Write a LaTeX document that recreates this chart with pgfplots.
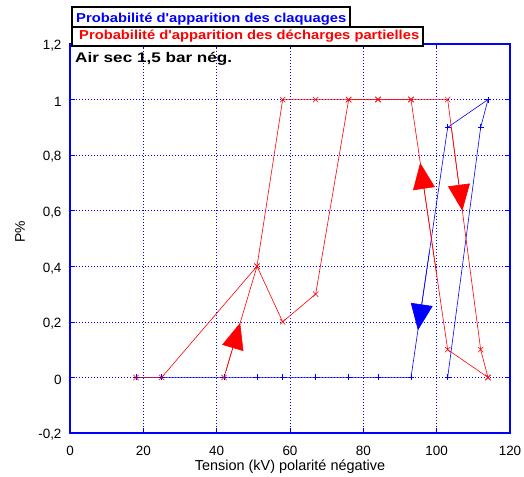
\documentclass[border=0pt]{standalone}
\usepackage{fontspec}
\setmainfont{Liberation Sans}[Ligatures=TeXOff]
\usepackage{pgfplots}
\pgfplotsset{compat=1.18}
\usetikzlibrary{arrows.meta}
\definecolor{pblue}{RGB}{0,0,255}
\definecolor{pred}{RGB}{255,0,0}
\begin{document}
\begin{tikzpicture}
\path[use as bounding box] (-70bp,-44bp) rectangle (454bp,433bp);
\begin{axis}[
  at={(0,0)}, anchor=south west, scale only axis,
  width=440bp, height=389bp,
  xmin=0, xmax=120, ymin=-0.2, ymax=1.2,
  xtick={0,20,40,60,80,100,120},
  xticklabels={0,20,40,60,80,100,120},
  ytick={-0.2,0,0.2,0.4,0.6,0.8,1,1.2},
  yticklabels={{-0,2},{0},{0,2},{0,4},{0,6},{0,8},{1},{1,2}},
  tick label style={font=\fontsize{13.5}{16}\selectfont, text=black},
  xticklabel shift=10bp,
  yticklabel shift=5bp,
  yticklabel style={yshift=-2bp},
  axis line style={pblue, line width=1.2pt},
  tick style={pblue, line width=0.6pt},
  major tick length=5bp,
  grid=major,
  major grid style={pblue, dash pattern=on 1bp off 2bp, line width=0.6pt},
  xlabel={Tension (kV) polarité négative},
  xlabel style={at={(axis description cs:0.5,0)}, anchor=center, yshift=-34bp, font=\fontsize{14.5}{17}\selectfont},
  ylabel={P\%},
  ylabel style={at={(axis description cs:-0.1136,0.517)}, anchor=center, font=\fontsize{14}{17}\selectfont},
  clip=false,
]
% Claquages (blue)
\addplot[pblue, line width=0.6pt, mark=+, mark size=3bp] coordinates {
  (18,0) (25,0) (42,0) (51,0) (58,0) (67,0) (76,0) (84,0) (93,0) (103,0.9) (114,1)};
\addplot[pblue, line width=0.6pt, mark=+, mark size=3bp] coordinates {
  (103,0) (112,0.9) (114,1)};
% Decharges partielles (red)
\addplot[pred, line width=0.6pt, mark=x, mark size=3.8bp, mark options={line width=0.5pt}] coordinates {
  (18,0) (25,0) (51,0.4) (58,0.2) (67,0.3) (76,1) (84,1) (93,1) (103,0.1) (114,0)};
\addplot[pred, line width=0.6pt, mark=x, mark size=3.8bp, mark options={line width=0.5pt}] coordinates {
  (42,0) (51,0.4) (58,1) (67,1) (76,1) (84,1) (93,1) (103,1) (112,0.1) (114,0)};
% arrows
\addplot[pred, line width=0.6pt, -{Triangle[length=26bp,width=22bp]}] coordinates {(42.5,0.022) (46.4,0.196)};
\addplot[pred, line width=0.6pt, -{Triangle[length=26bp,width=22bp]}] coordinates {(100,0.37) (95.5,0.772)};
\addplot[pred, line width=0.6pt, -{Triangle[length=26bp,width=22bp]}] coordinates {(104,0.9) (107,0.6)};
\addplot[pblue, line width=0.6pt, -{Triangle[length=26bp,width=22bp]}] coordinates {(98,0.45) (94.9,0.17)};
\end{axis}
% legend boxes
\draw[line width=1.5pt, fill=white] (2bp,406bp) rectangle (280bp,426bp);
\draw[line width=1.5pt, fill=white] (2bp,387bp) rectangle (353bp,406bp);
\node[anchor=base west, inner sep=0, text=pblue] at (6bp,410.3bp) {\resizebox{270bp}{\height}{\fontsize{13}{15}\selectfont\bfseries Probabilité d'apparition des claquages}};
\node[anchor=base west, inner sep=0, text=pred] at (9bp,393.7bp) {\resizebox{340bp}{\height}{\fontsize{13}{15}\selectfont\bfseries Probabilité d'apparition des décharges partielles}};
\node[anchor=base west, inner sep=0, text=black] at (5bp,370.3bp) {\resizebox{157bp}{\height}{\fontsize{14}{16}\selectfont\bfseries Air sec 1,5 bar nég.}};
\end{tikzpicture}
\end{document}
